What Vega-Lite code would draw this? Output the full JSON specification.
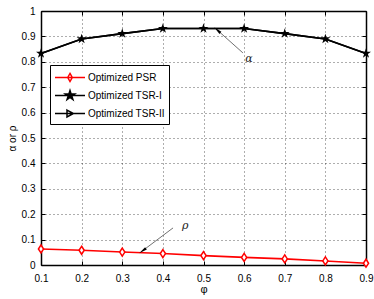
{
  "$schema": "https://vega.github.io/schema/vega-lite/v6.json",
  "width": 325,
  "height": 254,
  "autosize": "none",
  "padding": {"left": 41, "top": 11, "right": 8, "bottom": 34},
  "background": "white",
  "config": {
    "view": {"stroke": null},
    "font": "Liberation Sans",
    "axis": {
      "domainColor": "black", "domainWidth": 1.5,
      "tickColor": "black", "tickSize": -4, "tickWidth": 1,
      "labelColor": "black", "labelFontSize": 10, "labelFont": "Liberation Sans", "labelOverlap": false,
      "titleColor": "black", "titleFont": "Liberation Sans", "titleFontWeight": "normal", "titleFontSize": 11,
      "gridColor": "#000000", "gridDash": [1, 3], "gridOpacity": 0.8, "gridWidth": 0.8
    }
  },
  "datasets": {
    "series": [
      {"phi": 0.1, "value": 0.063, "series": "Optimized PSR"},
      {"phi": 0.2, "value": 0.058, "series": "Optimized PSR"},
      {"phi": 0.3, "value": 0.051, "series": "Optimized PSR"},
      {"phi": 0.4, "value": 0.045, "series": "Optimized PSR"},
      {"phi": 0.5, "value": 0.037, "series": "Optimized PSR"},
      {"phi": 0.6, "value": 0.030, "series": "Optimized PSR"},
      {"phi": 0.7, "value": 0.024, "series": "Optimized PSR"},
      {"phi": 0.8, "value": 0.016, "series": "Optimized PSR"},
      {"phi": 0.9, "value": 0.007, "series": "Optimized PSR"},
      {"phi": 0.1, "value": 0.833, "series": "Optimized TSR-II"},
      {"phi": 0.2, "value": 0.89, "series": "Optimized TSR-II"},
      {"phi": 0.3, "value": 0.911, "series": "Optimized TSR-II"},
      {"phi": 0.4, "value": 0.931, "series": "Optimized TSR-II"},
      {"phi": 0.5, "value": 0.931, "series": "Optimized TSR-II"},
      {"phi": 0.6, "value": 0.931, "series": "Optimized TSR-II"},
      {"phi": 0.7, "value": 0.911, "series": "Optimized TSR-II"},
      {"phi": 0.8, "value": 0.89, "series": "Optimized TSR-II"},
      {"phi": 0.9, "value": 0.833, "series": "Optimized TSR-II"},
      {"phi": 0.1, "value": 0.833, "series": "Optimized TSR-I"},
      {"phi": 0.2, "value": 0.89, "series": "Optimized TSR-I"},
      {"phi": 0.3, "value": 0.911, "series": "Optimized TSR-I"},
      {"phi": 0.4, "value": 0.931, "series": "Optimized TSR-I"},
      {"phi": 0.5, "value": 0.931, "series": "Optimized TSR-I"},
      {"phi": 0.6, "value": 0.931, "series": "Optimized TSR-I"},
      {"phi": 0.7, "value": 0.911, "series": "Optimized TSR-I"},
      {"phi": 0.8, "value": 0.89, "series": "Optimized TSR-I"},
      {"phi": 0.9, "value": 0.833, "series": "Optimized TSR-I"}
    ],
    "notes": [
      {"label": "α", "tx": 0.612, "ty": 0.81, "x1": 0.597, "y1": 0.835, "x2": 0.534, "y2": 0.925},
      {"label": "ρ", "tx": 0.455, "ty": 0.155, "x1": 0.425, "y1": 0.146, "x2": 0.35, "y2": 0.056}
    ]
  },
  "layer": [
    {
      "layer": [
        {
          "data": {"name": "series"},
          "mark": {"type": "line", "strokeWidth": 1.6},
          "encoding": {
            "x": {"field": "phi", "type": "quantitative",
                  "scale": {"domain": [0.1, 0.9], "nice": false, "zero": false},
                  "axis": {"title": "φ", "values": [0.1,0.2,0.3,0.4,0.5,0.6,0.7,0.8,0.9], "format": ".1f", "labelPadding": 12, "titlePadding": 0, "grid": true, "labelFlush": false}},
            "y": {"field": "value", "type": "quantitative",
                  "scale": {"domain": [0, 1], "nice": false},
                  "axis": {"title": "α or ρ", "titleFontSize": 10, "values": [0,0.1,0.2,0.3,0.4,0.5,0.6,0.7,0.8,0.9,1], "tickCount": 11, "labelOverlap": false, "format": ".1~f", "labelPadding": 10, "titlePadding": 4, "grid": true, "labelFlush": false}},
            "color": {"field": "series", "type": "nominal",
                      "scale": {"domain": ["Optimized PSR", "Optimized TSR-I", "Optimized TSR-II"], "range": ["#ff0000", "#000000", "#000000"]},
                      "legend": {
                        "title": null, "orient": "none", "legendX": 9, "legendY": 54,
                        "fillColor": "white", "strokeColor": "black", "padding": 4,
                        "symbolSize": 225, "labelFontSize": 10, "labelColor": "black", "labelFont": "Liberation Sans",
                        "rowPadding": 2, "labelOffset": 17,
                        "encode": {"symbols": {"update": {
                          "shape": {"signal": "datum.value === 'Optimized PSR' ? 'M-1,0H3M1,-0.54L1.3,0L1,0.54L0.7,0Z' : datum.value === 'Optimized TSR-I' ? 'M-1,0H3M1,-0.66L1.148,-0.204L1.628,-0.204L1.24,0.078L1.388,0.534L1,0.252L0.612,0.534L0.76,0.078L0.372,-0.204L0.852,-0.204Z' : 'M-1,0H3M0.6,-0.46L1.46,0L0.6,0.46Z'"},
                          "fill": {"signal": "datum.value === 'Optimized TSR-I' ? 'black' : 'white'"},
                          "strokeWidth": {"value": 1.5}
                        }}}
                      }}
          }
        },
        {
          "data": {"name": "series"},
          "transform": [{"filter": "datum.series === 'Optimized TSR-II'"}],
          "mark": {"type": "point", "shape": "M-0.6,-0.7L0.7,0L-0.6,0.7Z", "filled": true, "color": "black", "size": 30, "opacity": 1},
          "encoding": {
            "x": {"field": "phi", "type": "quantitative"},
            "y": {"field": "value", "type": "quantitative"}
          }
        },
        {
          "data": {"name": "series"},
          "transform": [{"filter": "datum.series === 'Optimized TSR-I'"}],
          "mark": {"type": "point", "shape": "M0,-1L0.225,-0.309L0.951,-0.309L0.363,0.118L0.588,0.809L0,0.382L-0.588,0.809L-0.363,0.118L-0.951,-0.309L-0.225,-0.309Z", "filled": true, "color": "black", "size": 110, "opacity": 1},
          "encoding": {
            "x": {"field": "phi", "type": "quantitative"},
            "y": {"field": "value", "type": "quantitative"}
          }
        },
        {
          "data": {"name": "series"},
          "transform": [{"filter": "datum.series === 'Optimized PSR'"}],
          "mark": {"type": "point", "shape": "M0,-1L0.65,0L0,1L-0.65,0Z", "filled": false, "stroke": "#ff0000", "fill": "white", "strokeWidth": 1.5, "size": 64, "opacity": 1},
          "encoding": {
            "x": {"field": "phi", "type": "quantitative"},
            "y": {"field": "value", "type": "quantitative"}
          }
        },
        {
          "data": {"name": "notes"},
          "mark": {"type": "rule", "color": "#333333", "strokeWidth": 0.7},
          "encoding": {
            "x": {"field": "x1", "type": "quantitative"},
            "y": {"field": "y1", "type": "quantitative"},
            "x2": {"field": "x2"},
            "y2": {"field": "y2"}
          }
        },
        {
          "data": {"name": "notes"},
          "transform": [{"filter": "datum.label === 'α'"}],
          "mark": {"type": "point", "shape": "M0,-1L0.35,1L-0.35,1Z", "filled": true, "color": "black", "size": 70, "angle": 312, "opacity": 1},
          "encoding": {
            "x": {"field": "x2", "type": "quantitative"},
            "y": {"field": "y2", "type": "quantitative"}
          }
        },
        {
          "data": {"name": "notes"},
          "transform": [{"filter": "datum.label === 'ρ'"}],
          "mark": {"type": "point", "shape": "M0,-1L0.35,1L-0.35,1Z", "filled": true, "color": "black", "size": 70, "angle": 234, "opacity": 1},
          "encoding": {
            "x": {"field": "x2", "type": "quantitative"},
            "y": {"field": "y2", "type": "quantitative"}
          }
        },
        {
          "data": {"name": "notes"},
          "mark": {"type": "text", "font": "DejaVu Serif", "fontStyle": "italic", "fontSize": 11, "color": "#222222", "align": "center", "baseline": "middle"},
          "encoding": {
            "x": {"field": "tx", "type": "quantitative"},
            "y": {"field": "ty", "type": "quantitative"},
            "text": {"field": "label"}
          }
        }
      ]
    },
    {
      "data": {"values": [{"a": 0.1, "b": 0}]},
      "mark": {"type": "point", "opacity": 0},
      "encoding": {
        "x": {"field": "a", "type": "quantitative",
              "scale": {"domain": [0.1, 0.9], "nice": false, "zero": false},
              "axis": {"orient": "top", "title": null, "labels": false, "grid": false, "values": [0.1,0.2,0.3,0.4,0.5,0.6,0.7,0.8,0.9]}},
        "y": {"field": "b", "type": "quantitative",
              "scale": {"domain": [0, 1], "nice": false},
              "axis": {"orient": "right", "title": null, "labels": false, "grid": false, "values": [0,0.1,0.2,0.3,0.4,0.5,0.6,0.7,0.8,0.9,1]}}
      }
    }
  ],
  "resolve": {"scale": {"x": "independent", "y": "independent"}}
}
